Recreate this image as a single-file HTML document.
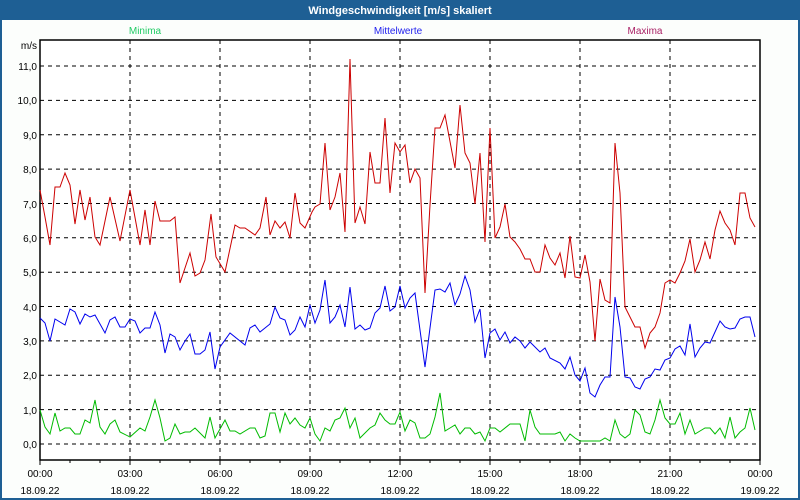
<!DOCTYPE html>
<html><head><meta charset="utf-8"><style>
html,body{margin:0;padding:0;width:800px;height:500px;overflow:hidden;background:#fff}
svg text{font-family:"Liberation Sans","DejaVu Sans",sans-serif}
</style></head><body>
<svg width="800" height="500" viewBox="0 0 800 500" xmlns="http://www.w3.org/2000/svg">
<rect x="0" y="0" width="800" height="500" fill="#1e5f94"/>
<rect x="2" y="20" width="796" height="478" fill="#fcfefc"/>
<text x="400" y="14" fill="#fff" font-size="11" font-weight="bold" text-anchor="middle">Windgeschwindigkeit [m/s] skaliert</text>
<text x="145" y="34" fill="#22cc66" font-size="10" text-anchor="middle">Minima</text>
<text x="398" y="34" fill="#2222ee" font-size="10" text-anchor="middle">Mittelwerte</text>
<text x="645" y="34" fill="#aa2266" font-size="10" text-anchor="middle">Maxima</text>
<text x="37" y="49" fill="#000" font-size="10" text-anchor="end">m/s</text>
<rect x="40" y="40" width="720" height="420" fill="#fff" stroke="#000" stroke-width="1.5"/>
<g stroke="#000" stroke-width="1" stroke-dasharray="4,4">
<line x1="40" x2="760" y1="66" y2="66"/><line x1="40" x2="760" y1="100.4" y2="100.4"/>
<line x1="40" x2="760" y1="134.7" y2="134.7"/><line x1="40" x2="760" y1="169.1" y2="169.1"/>
<line x1="40" x2="760" y1="203.5" y2="203.5"/><line x1="40" x2="760" y1="237.8" y2="237.8"/>
<line x1="40" x2="760" y1="272.2" y2="272.2"/><line x1="40" x2="760" y1="306.5" y2="306.5"/>
<line x1="40" x2="760" y1="340.9" y2="340.9"/><line x1="40" x2="760" y1="375.3" y2="375.3"/>
<line x1="40" x2="760" y1="409.6" y2="409.6"/><line x1="40" x2="760" y1="444" y2="444"/>
<line x1="130" x2="130" y1="40" y2="460"/><line x1="220" x2="220" y1="40" y2="460"/>
<line x1="310" x2="310" y1="40" y2="460"/><line x1="400" x2="400" y1="40" y2="460"/>
<line x1="490" x2="490" y1="40" y2="460"/><line x1="580" x2="580" y1="40" y2="460"/>
<line x1="670" x2="670" y1="40" y2="460"/>
</g>
<g stroke="#000" stroke-width="1">
<line x1="40" x2="40" y1="460" y2="465"/><line x1="70" x2="70" y1="460" y2="463"/><line x1="100" x2="100" y1="460" y2="463"/><line x1="130" x2="130" y1="460" y2="465"/><line x1="160" x2="160" y1="460" y2="463"/><line x1="190" x2="190" y1="460" y2="463"/><line x1="220" x2="220" y1="460" y2="465"/><line x1="250" x2="250" y1="460" y2="463"/><line x1="280" x2="280" y1="460" y2="463"/><line x1="310" x2="310" y1="460" y2="465"/><line x1="340" x2="340" y1="460" y2="463"/><line x1="370" x2="370" y1="460" y2="463"/><line x1="400" x2="400" y1="460" y2="465"/><line x1="430" x2="430" y1="460" y2="463"/><line x1="460" x2="460" y1="460" y2="463"/><line x1="490" x2="490" y1="460" y2="465"/><line x1="520" x2="520" y1="460" y2="463"/><line x1="550" x2="550" y1="460" y2="463"/><line x1="580" x2="580" y1="460" y2="465"/><line x1="610" x2="610" y1="460" y2="463"/><line x1="640" x2="640" y1="460" y2="463"/><line x1="670" x2="670" y1="460" y2="465"/><line x1="700" x2="700" y1="460" y2="463"/><line x1="730" x2="730" y1="460" y2="463"/><line x1="760" x2="760" y1="460" y2="465"/>
</g>
<g font-size="10" fill="#000" text-anchor="end">
<text x="37" y="70">11,0</text><text x="37" y="104">10,0</text><text x="37" y="139">9,0</text><text x="37" y="173">8,0</text><text x="37" y="208">7,0</text><text x="37" y="242">6,0</text><text x="37" y="276">5,0</text><text x="37" y="311">4,0</text><text x="37" y="345">3,0</text><text x="37" y="379">2,0</text><text x="37" y="414">1,0</text><text x="37" y="448">0,0</text>
</g>
<g font-size="10" fill="#000" text-anchor="middle">
<text x="40" y="477">00:00</text><text x="40" y="494">18.09.22</text>
<text x="130" y="477">03:00</text><text x="130" y="494">18.09.22</text>
<text x="220" y="477">06:00</text><text x="220" y="494">18.09.22</text>
<text x="310" y="477">09:00</text><text x="310" y="494">18.09.22</text>
<text x="400" y="477">12:00</text><text x="400" y="494">18.09.22</text>
<text x="490" y="477">15:00</text><text x="490" y="494">18.09.22</text>
<text x="580" y="477">18:00</text><text x="580" y="494">18.09.22</text>
<text x="670" y="477">21:00</text><text x="670" y="494">18.09.22</text>
<text x="760" y="477">00:00</text><text x="760" y="494">19.09.22</text>
</g>
<polyline fill="none" stroke="#cc0000" stroke-width="1" points="40,190 45,217 50,245 55,187 60,187 65,173 70,185 75,224 80,190 85,220 90,197 95,237 100,245 110,197 120,241 130,190 140,245 145,210 150,245 155,201 160,221 170,221 175,217 180,283 190,253 195,276 200,273 205,260 211,214 216,257 225,272 235,225 240,228 245,228 255,235 260,228 266,197 270,235 275,221 280,228 285,222 290,238 295,193 300,223 305,228 312,212 315,207 320,204 325,143 330,210 335,197 340,173 345,232 350,59 355,223 360,207 365,224 370,152 375,183 380,183 385,118 390,193 395,143 400,152 405,145 410,183 415,169 420,178 425,293 430,205 435,128 440,128 445,115 455,168 460,105 465,153 470,163 475,204 480,153 485,242 490,128 495,238 500,227 505,204 510,237 515,242 520,249 525,259 530,259 535,272 540,272 545,245 550,258 555,265 560,253 565,278 570,236 575,277 580,278 585,255 590,282 595,341 600,279 605,300 610,303 615,143 620,193 625,307 635,327 640,327 645,348 650,333 655,327 660,313 665,283 670,280 675,283 680,273 685,261 690,239 695,272 700,260 705,242 710,259 715,230 720,211 725,223 730,230 735,245 740,193 745,193 750,218 755,227"/>
<polyline fill="none" stroke="#0000ee" stroke-width="1" points="40,318 45,323 50,341 55,319 65,325 70,309 75,312 80,324 85,314 90,317 95,315 105,333 110,320 115,317 120,327 125,327 130,319 135,321 140,333 145,328 150,328 155,312 160,325 165,353 170,334 175,337 180,350 185,341 190,334 195,354 200,354 205,350 210,332 215,369 220,347 230,333 245,345 250,328 255,325 260,332 270,324 275,307 280,318 285,320 290,335 295,330 300,317 305,327 310,305 315,323 320,310 325,280 330,323 335,317 340,305 345,327 350,287 355,329 360,325 365,330 370,328 375,313 380,308 385,286 390,311 395,307 400,286 405,308 410,298 415,293 420,330 425,367 430,328 435,290 440,289 445,292 450,283 455,305 460,294 465,276 470,290 475,322 480,309 485,358 490,333 495,329 500,340 505,332 510,343 515,337 520,341 525,348 530,342 535,347 540,352 545,348 550,358 560,363 565,369 570,357 575,375 580,381 585,368 590,393 595,397 600,385 605,377 610,377 615,297 620,327 625,377 630,378 635,387 640,389 645,379 650,377 655,369 660,370 665,360 670,358 675,349 680,346 685,355 690,324 695,357 700,348 705,342 710,343 715,332 720,321 725,327 730,329 735,328 740,319 745,317 750,317 755,337"/>
<polyline fill="none" stroke="#00bb00" stroke-width="1" points="40,410 45,427 50,434 55,413 60,431 65,428 70,428 75,434 80,434 85,420 90,423 95,400 100,427 105,434 110,424 115,420 120,432 130,437 140,428 145,431 150,417 155,400 160,418 165,441 170,438 175,424 180,434 185,432 190,432 195,428 205,438 210,417 215,438 225,420 230,431 235,431 240,434 250,428 255,428 260,438 265,436 270,413 275,413 280,432 285,413 290,424 295,418 300,425 305,428 310,418 315,434 320,441 325,428 330,431 335,420 340,418 345,408 350,428 355,418 360,438 365,433 370,428 375,425 380,413 385,420 390,424 395,424 400,412 405,431 410,420 415,423 420,438 425,438 430,434 435,417 440,393 445,431 450,428 455,425 460,434 465,428 470,428 475,434 480,432 485,441 490,428 495,428 500,432 510,424 520,424 525,441 530,410 535,427 540,434 555,434 560,432 565,441 570,434 575,438 580,441 600,441 605,438 610,441 615,420 620,434 625,438 630,434 635,410 640,415 645,432 650,434 655,420 660,400 665,418 670,424 675,424 680,413 685,434 690,420 695,434 700,431 705,428 710,428 715,434 720,428 725,438 730,417 735,438 740,432 745,428 750,408 755,430"/>
</svg>
</body></html>
